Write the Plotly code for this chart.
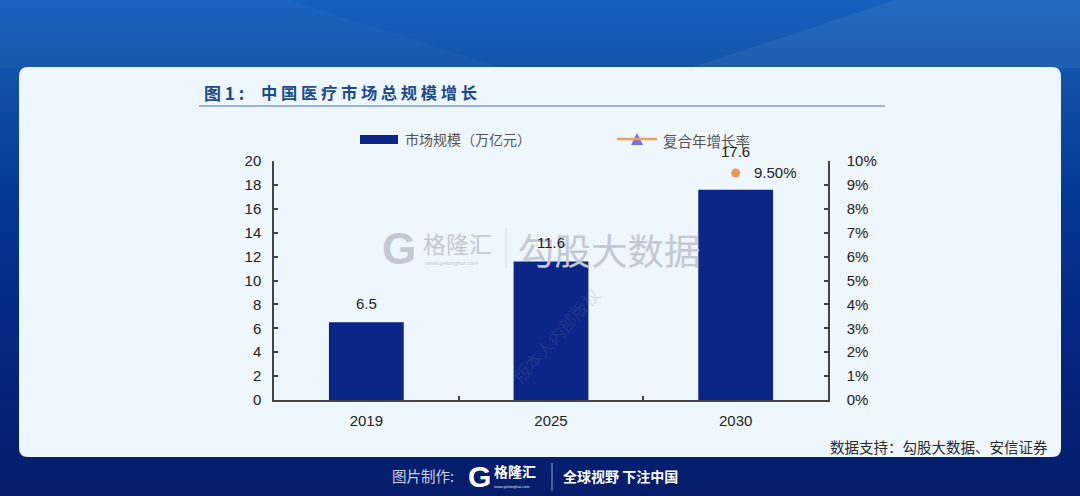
import plotly.graph_objects as go

years = ["2019", "2025", "2030"]
market_size = [6.5, 11.6, 17.6]
cagr_year = ["2030"]
cagr_value = [0.095]
size_ticks = [0, 2, 4, 6, 8, 10, 12, 14, 16, 18, 20]
pct_ticks = [0, 0.01, 0.02, 0.03, 0.04, 0.05, 0.06, 0.07, 0.08, 0.09, 0.10]

W, H = 1080, 496
SANS = "Liberation Sans, Arial, sans-serif"
CJK = "Noto Sans CJK SC, sans-serif"
INK = "#222222"
BAR = "#0C2589"

# pixel -> paper helpers for the page furniture
def px(x):
    return x / W

def py(y):
    return 1 - y / H

# page background colours, sampled down the left edge
bg_stops = [(0, (21, 97, 190)), (60, (18, 85, 173)), (200, (4, 55, 150)),
            (300, (4, 42, 135)), (496, (5, 28, 105))]

def band_color(y):
    for (y0, a), (y1, b) in zip(bg_stops, bg_stops[1:]):
        if y <= y1:
            f = (y - y0) / (y1 - y0)
            c = [round(a[i] + (b[i] - a[i]) * f) for i in range(3)]
            return f"rgb({c[0]},{c[1]},{c[2]})"
    return "rgb(5,28,105)"

shapes = []

# background gradient, drawn as thin strips
for y in range(0, H, 4):
    shapes.append(dict(type="rect", xref="paper", yref="paper", layer="below",
                       x0=0, x1=1, y0=py(y + 4), y1=py(y),
                       fillcolor=band_color(y), line_width=0))

# lighter wedges at the top
def poly(points, color):
    d = "M " + " L ".join(f"{px(x):.4f},{py(y):.4f}" for x, y in points) + " Z"
    return dict(type="path", xref="paper", yref="paper", layer="below", path=d,
                fillcolor=color, line_width=0)

shapes.append(poly([(0, 0), (289, 0), (503, 68), (0, 68)], "rgba(255,255,255,0.025)"))
shapes.append(poly([(895, 0), (1080, 0), (1080, 68), (689, 68)], "rgba(255,255,255,0.06)"))

# white card, rounded corners
cx0, cx1, cy0, cy1, r = 19, 1061, 67, 457, 9
card = (f"M {px(cx0 + r)},{py(cy0)} L {px(cx1 - r)},{py(cy0)} "
        f"Q {px(cx1)},{py(cy0)} {px(cx1)},{py(cy0 + r)} L {px(cx1)},{py(cy1 - r)} "
        f"Q {px(cx1)},{py(cy1)} {px(cx1 - r)},{py(cy1)} L {px(cx0 + r)},{py(cy1)} "
        f"Q {px(cx0)},{py(cy1)} {px(cx0)},{py(cy1 - r)} L {px(cx0)},{py(cy0 + r)} "
        f"Q {px(cx0)},{py(cy0)} {px(cx0 + r)},{py(cy0)} Z")
shapes.append(dict(type="path", xref="paper", yref="paper", layer="below", path=card,
                   fillcolor="#EEF6FE", line_width=0))

def hline(x0, x1, y, color, width):
    return dict(type="line", xref="paper", yref="paper", x0=px(x0), x1=px(x1),
                y0=py(y), y1=py(y), line=dict(color=color, width=width))

def vline(x, y0, y1, color, width):
    return dict(type="line", xref="paper", yref="paper", x0=px(x), x1=px(x),
                y0=py(y0), y1=py(y1), line=dict(color=color, width=width))

# rule under the title
shapes.append(hline(199, 885, 106, "#9DB4D8", 2))

# hand drawn legend keys
shapes.append(dict(type="rect", xref="paper", yref="paper", x0=px(360), x1=px(398),
                   y0=py(144), y1=py(135), fillcolor=BAR, line_width=0))
shapes.append(hline(617, 657, 139, "#F0A050", 2.5))
shapes.append(poly([(637, 133), (643, 145), (631, 145)], "#7B6CF0"))

# watermark and footer dividers
shapes.append(vline(506, 228, 268, "#D3D9E2", 1))
shapes.append(vline(552, 463, 491, "#8FA3CC", 1))

def text(x, y, s, size, color, family=CJK, anchor="left", **kw):
    return dict(xref="paper", yref="paper", x=px(x), y=py(y), text=s, showarrow=False,
                xanchor=anchor, yanchor="middle",
                font=dict(family=family, size=size, color=color), **kw)

annotations = [
    text(202, 92, "<b>图 1 :</b>", 17, "#1B4A8C"),
    text(259, 92, "<b>中 国 医 疗 市 场 总 规 模 增 长</b>", 16.3, "#1B4A8C"),
    text(403, 139, "市场规模（万亿元）", 14, "#555555"),
    text(661, 140, "复合年增长率", 14.5, "#555555"),
    text(1050, 446, "数据支持：勾股大数据、安信证券", 14.5, "#2A2A2A", anchor="right"),
    # watermark
    text(380, 248, "<b>G</b>", 44, "#C3C9D4", family=SANS),
    text(421, 243, "格隆汇", 23, "#C3C9D4"),
    text(422, 263, "www.gelonghui.com", 6, "#C3C9D4", family=SANS),
    text(516, 249, "勾股大数据", 36.5, "#C3C9D4"),
    text(555, 335, "版本人内部版权", 17, "rgba(120,130,150,0.2)", anchor="center", textangle=-48),
    # footer
    text(390, 475, "图片制作:", 14.5, "#C8D2E8"),
    text(466, 476, "<b>G</b>", 30, "#FFFFFF", family=SANS),
    text(492, 471, "<b>格隆汇</b>", 14, "#FFFFFF"),
    text(492, 486, "www.gelonghui.com", 4, "#DDE4F2", family=SANS),
    text(561, 476, "<b>全球视野 下注中国</b>", 14, "#FFFFFF"),
]

# value labels sit above the bars, 2030 is pushed up over the growth point
# (x is the category index: a year string would be read as an index anyway)
label_shift = [8, 8, 28]
for i, (v, shift) in enumerate(zip(market_size, label_shift)):
    annotations.append(dict(x=i, y=v, xref="x", yref="y", text=str(v), showarrow=False,
                            yanchor="bottom", yshift=shift,
                            font=dict(family=SANS, size=15, color=INK)))
annotations.append(dict(x=years.index(cagr_year[0]), y=cagr_value[0], xref="x", yref="y2",
                        text=f"{cagr_value[0]:.2%}", showarrow=False, xanchor="left",
                        xshift=16, font=dict(family=SANS, size=15, color=INK)))

fig = go.Figure()
fig.add_trace(go.Bar(x=years, y=market_size, marker=dict(color=BAR, line_width=0),
                     width=0.405, name="市场规模（万亿元）"))
fig.add_trace(go.Scatter(x=cagr_year, y=cagr_value, yaxis="y2", mode="markers",
                         marker=dict(color="#F0974A", size=9), name="复合年增长率"))

axis_line = dict(showline=True, linecolor="#444444", linewidth=1.5, showgrid=False,
                 zeroline=False, tickcolor="#444444", ticklen=4, tickwidth=1.5,
                 tickfont=dict(family=SANS, size=15, color=INK))
y_domain = [py(400), py(161)]

# no margins, so paper coordinates are the whole page
fig.update_layout(
    width=W, height=H, autosize=False,
    margin=dict(l=0, r=0, t=0, b=0, autoexpand=False),
    paper_bgcolor="#0E4EAA", plot_bgcolor="rgba(0,0,0,0)",
    showlegend=False, shapes=shapes, annotations=annotations,
    xaxis=dict(**axis_line, ticks="inside", tickson="boundaries", type="category",
               categoryorder="array", categoryarray=years, range=[-0.5, 2.5],
               domain=[px(274), px(828)], tickangle=0, ticklabelstandoff=6),
    yaxis=dict(**axis_line, ticks="inside", range=[0, 20], tickvals=size_ticks,
               domain=y_domain, ticklabelstandoff=8),
    yaxis2=dict(**axis_line, ticks="inside", overlaying="y", side="right", range=[0, 0.10],
                tickvals=pct_ticks, tickformat=".0%", anchor="x", ticklabelstandoff=14),
)

fig.write_html("out.html", post_script="document.body.style.margin='0';",
               config=dict(displayModeBar=False))
